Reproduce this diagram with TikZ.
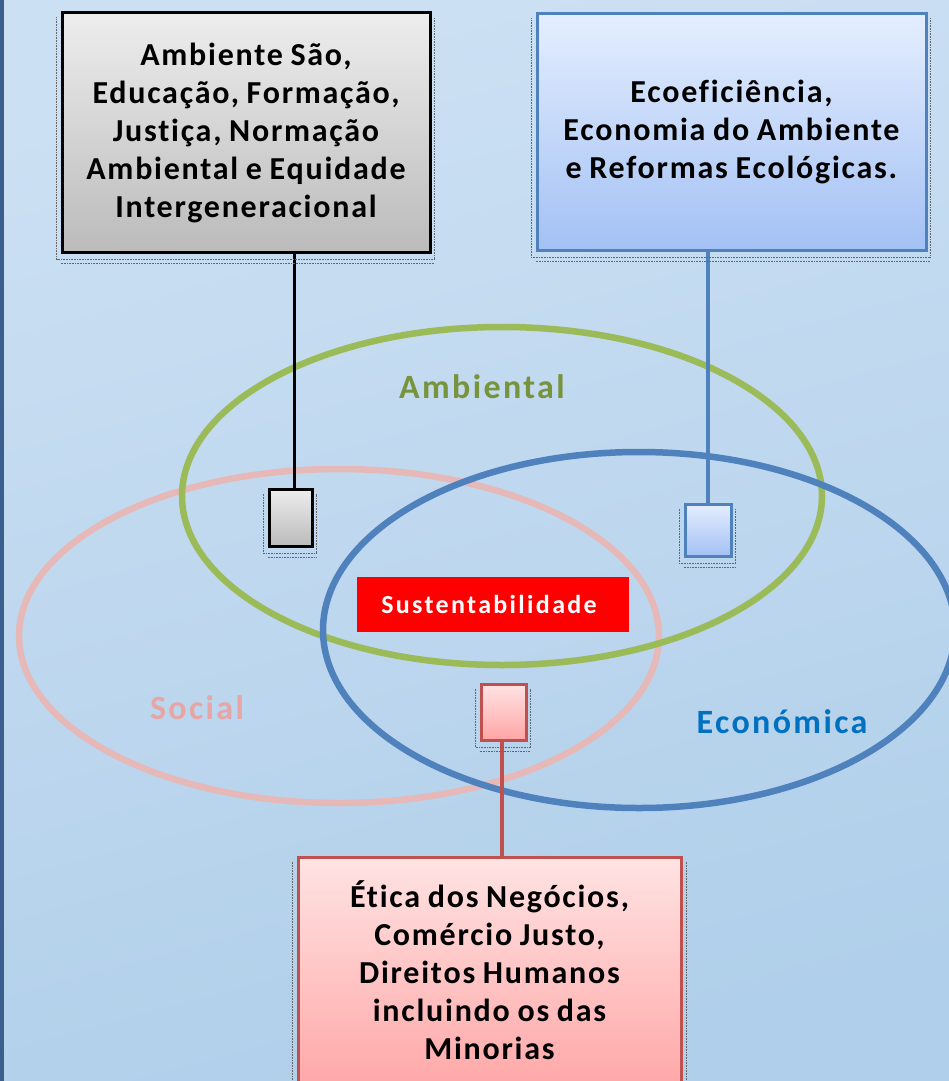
\documentclass[tikz,border=0pt]{standalone}
\usepackage{fontspec}
\setmainfont{Carlito}
\newfontfamily\boxfont{Carlito}[LetterSpace=5.5,WordSpace=0.85,Ligatures=NoCommon]
\newfontfamily\lblfont{Carlito}[LetterSpace=7,Ligatures=NoCommon]
\newfontfamily\sustfont{Carlito}[LetterSpace=9,Ligatures=NoCommon]
\definecolor{bgA}{HTML}{CCE0F3}
\definecolor{bgB}{HTML}{B0CFEA}
\definecolor{edge}{HTML}{3A5F8F}
\definecolor{grn}{HTML}{9BBB59}
\definecolor{pnk}{HTML}{E6B9B8}
\definecolor{blu}{HTML}{4F81BD}
\definecolor{redb}{HTML}{C0504D}
\definecolor{ambT}{HTML}{77933C}
\definecolor{socT}{HTML}{E5A6A5}
\definecolor{ecoT}{HTML}{0070C0}
\definecolor{grayT}{HTML}{EDEDED}
\definecolor{grayB}{HTML}{BBBBBB}
\definecolor{bluT}{HTML}{E4EEFE}
\definecolor{bluB}{HTML}{A3C1F4}
\definecolor{pnkT}{HTML}{FFE3E3}
\definecolor{pnkB}{HTML}{FFA5A5}
\begin{document}
\begin{tikzpicture}[x=1pt,y=-1pt,
  box/.style={rectangle, line width=3pt, inner sep=0pt, align=center,
    font=\boxfont\fontsize{32}{38}\selectfont\bfseries},
  tiny/.style={rectangle, line width=3pt, inner sep=0pt},
  ghost/.style={densely dotted, line width=0.6pt, black!60},
  ring/.style={line width=6.5pt},
  lbl/.style={font=\lblfont\fontsize{34}{38}\selectfont\bfseries, inner sep=0pt},
  link/.style={line width=3.5pt}]
\useasboundingbox (0,0) rectangle (949,1081);
% background
\shade[top color=bgA, bottom color=bgB, shading angle=15] (0,0) rectangle (949,1081);
\fill[edge] (0,0) rectangle (4,1081);

% ellipses
\draw[ring, pnk] (339,636) ellipse [x radius=320, y radius=167];
\draw[ring, grn] (502,496) ellipse [x radius=320, y radius=169];
\draw[ring, blu] (639,630) ellipse [x radius=316, y radius=178];

% labels
\node[lbl, text=ambT] (lamb) at (482,387) {Ambiental};
\node[lbl, text=socT] (lsoc) at (197,708) {Social};
\node[lbl, text=ecoT] (leco) at (782,722) {Económica};

% center
\node[rectangle, fill=red, minimum width=272pt, minimum height=55pt, inner sep=0pt,
  text=white, font=\sustfont\fontsize{26}{30}\selectfont\bfseries] (sust) at (493,604.5) {\hspace*{-8pt}Sustentabilidade};

% big boxes
\node[box, draw=black, top color=grayT, bottom color=grayB,
  minimum width=368pt, minimum height=239pt] (amb) at (246,132.5)
  {Ambiente São,\\Educação, Formação,\\Justiça, Normação\\Ambiental e Equidade\\Intergeneracional};
\node[box, draw=blu, top color=bluT, bottom color=bluB,
  minimum width=389pt, minimum height=236pt] (eco) at (731.5,132)
  {Ecoeficiência,\\Economia do Ambiente\\e Reformas Ecológicas.};
\node[tiny, draw=redb, top color=pnkT, bottom color=pnkB,
  minimum width=383pt, minimum height=240pt] (soc) at (489.5,977) {};
\node[box] (soctxt) at (489.5,970)
  {Ética dos Negócios,\\Comércio Justo,\\Direitos Humanos\\incluindo os das\\Minorias};

% small boxes
\node[tiny, draw=black, top color=grayT, bottom color=grayB,
  minimum width=43pt, minimum height=57pt] (sg) at (290.5,517.5) {};
\node[tiny, draw=blu, top color=bluT, bottom color=bluB,
  minimum width=46pt, minimum height=52pt] (sb) at (708,530) {};
\node[tiny, draw=redb, top color=pnkT, bottom color=pnkB,
  minimum width=45pt, minimum height=56pt] (sp) at (503.5,712) {};

% connectors
\draw[link, black] ([xshift=4pt]sg.north) -- ([xshift=4pt]sg.north |- amb.south);
\draw[link, blu] (sb.north) -- (sb.north |- eco.south);
\draw[link, redb] ([xshift=-1.5pt]sp.south) -- ([xshift=-1.5pt]sp.south |- soc.north);

% dotted selection shadows
\foreach \n in {amb,eco,sg,sb,sp}{
  \draw[ghost] ([xshift=-4pt,yshift=-6pt]\n.north west) -- ([xshift=-4pt,yshift=-6pt]\n.south west)
     -- ([xshift=3pt,yshift=-6pt]\n.south east) -- ([xshift=3pt,yshift=-6pt]\n.north east);
  \draw[ghost] ([yshift=-10pt]\n.south west) -- ([xshift=3pt,yshift=-10pt]\n.south east);
}
\draw[ghost] ([xshift=-4pt,yshift=-6pt]soc.north west) -- ([xshift=-4pt]soc.south west);
\draw[ghost] ([xshift=4pt,yshift=-6pt]soc.north east) -- ([xshift=4pt]soc.south east);
\end{tikzpicture}
\end{document}
